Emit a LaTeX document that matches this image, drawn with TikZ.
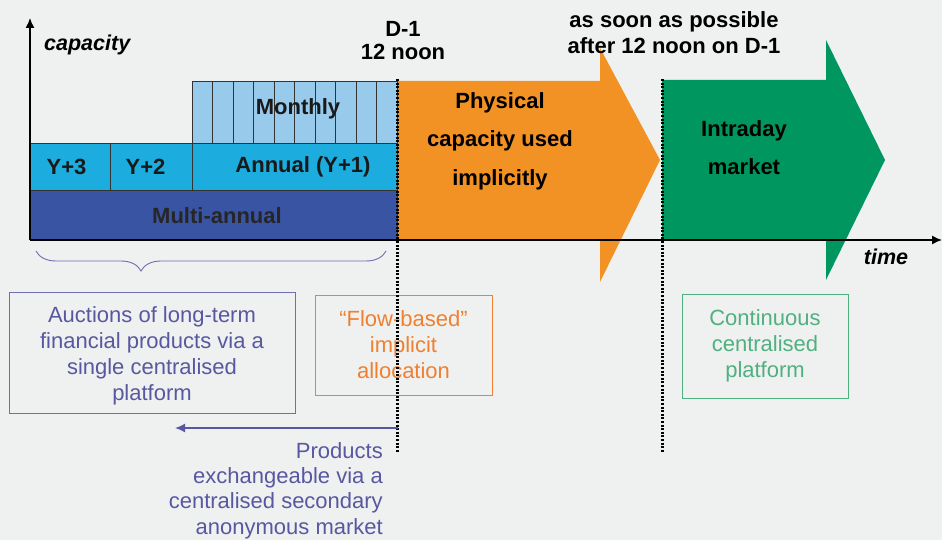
\documentclass[tikz,border=0pt]{standalone}
\usepackage{fontspec}
\setmainfont{Liberation Sans}
\usetikzlibrary{arrows.meta,decorations.pathreplacing,calc}
\definecolor{bg}{RGB}{239,240,240}
\definecolor{dblue}{RGB}{58,84,164}
\definecolor{cyanbar}{RGB}{28,172,222}
\definecolor{lblue}{RGB}{152,202,236}
\definecolor{orng}{RGB}{242,146,36}
\definecolor{grn}{RGB}{0,150,95}
\definecolor{purp}{RGB}{88,88,160}
\definecolor{purpline}{RGB}{110,110,176}
\definecolor{orngtxt}{RGB}{240,128,48}
\definecolor{grntxt}{RGB}{80,176,128}
\tikzset{
  lbl/.style={font=\fontsize{22}{24}\selectfont\bfseries, text=black, align=center, inner sep=0pt},
  axlbl/.style={font=\fontsize{21.5}{24}\selectfont\bfseries\itshape, inner sep=0pt},
  barbox/.style={draw=black!80, line width=1pt, anchor=north west, inner sep=0pt},
  bartext/.style={font=\fontsize{22}{24}\selectfont\bfseries, text=black!90, inner sep=0pt},
  infobox/.style={draw, line width=1pt, inner sep=0pt, align=center, font=\fontsize{22}{26}\selectfont},
  infotext/.style={inner sep=0pt, align=center, font=\fontsize{22}{26}\selectfont},
  dotline/.style={line width=3pt, dash pattern=on 2pt off 1.6pt},
}
\begin{document}
\begin{tikzpicture}[x=1pt,y=-1pt]
\fill[bg] (0,0) rectangle (942,540);
\useasboundingbox (0,0) rectangle (942,540);

% arrows (orange, green)
\fill[orng] (397,81) -- (600,81) -- (600,48) -- (660,160) -- (600,282) -- (600,240) -- (397,240) -- cycle;
\fill[grn] (662,80) -- (826,80) -- (826,40) -- (885,160) -- (826,280) -- (826,240) -- (662,240) -- cycle;
\node[lbl, font=\fontsize{22}{38.5}\selectfont\bfseries] (phys) at (500,141) {Physical\\capacity used\\implicitly};
\node[lbl, font=\fontsize{22}{38}\selectfont\bfseries] (intra) at (744,148) {Intraday\\market};

% bars
\node[barbox, fill=dblue, minimum width=367pt, minimum height=50pt] (multi) at (30,190) {};
\node[bartext, text=black!85] at ($(multi.center)+(3,0)$) {Multi-annual};
\node[barbox, fill=cyanbar, minimum width=80pt, minimum height=47pt] (y3) at (30,143) {};
\node[barbox, fill=cyanbar, minimum width=82pt, minimum height=47pt] (y2) at (110,143) {};
\node[barbox, fill=cyanbar, minimum width=205pt, minimum height=47pt] (ann) at (192,143) {};
\node[bartext] at ($(y3.center)+(-4,0)$) {Y+3};
\node[bartext] at ($(y2.center)+(-6,0)$) {Y+2};
\node[bartext] at ($(ann.center)+(8,0)$) {Annual (Y+1)};
\node[barbox, fill=lblue, minimum width=205pt, minimum height=62pt] (month) at (192,81) {};
\foreach \i in {1,...,9} {
  \draw[black!80, line width=1pt] ($(month.north west)+(20.5*\i,0)$) -- ($(month.south west)+(20.5*\i,0)$);
}
\node[bartext] at ($(month.center)+(3,-4)$) {Monthly};

% axes
\coordinate (o) at (30,240);
\coordinate (ytop) at (30,18);
\coordinate (xend) at (942,240);
\draw[line width=1.4pt, -{Latex[length=10pt,width=9pt]}] (o) -- (ytop);
\draw[line width=1.4pt, -{Latex[length=10pt,width=9pt]}] (o) -- (xend);
\node[axlbl, anchor=west] (cap) at (44,45) {capacity};
\node[axlbl] (time) at (886,257) {time};

% dotted lines
\coordinate (d1t) at (397,79);
\coordinate (d1b) at (397,453);
\coordinate (d2t) at (662,79);
\coordinate (d2b) at (662,453);

% top labels
\node[lbl, font=\fontsize{22}{23}\selectfont\bfseries] (d1) at (403,41) {D-1\\12 noon};
\node[lbl, font=\fontsize{22}{26}\selectfont\bfseries] (asap) at (674,33) {as soon as possible\\after 12 noon on D-1};

% brace
\draw[purpline, line width=0.9pt, decorate, decoration={brace, mirror, amplitude=20pt, aspect=0.3}] (36,251) -- (386,251);

% info boxes
\node[infobox, draw=purpline, minimum width=286pt, minimum height=121pt] (auct) at (152,352.5) {};
\node[infotext, text=purp] (aucttxt) at (152,356) {Auctions of long-term\\financial products via a\\single centralised\\platform};
\node[infobox, draw=orngtxt, text=orngtxt, minimum width=177pt, minimum height=100pt] (flow) at (403.5,345) {“Flow-based”\\implicit\\allocation};
\node[infobox, draw=grntxt, text=grntxt, minimum width=166pt, minimum height=104pt] (cont) at (765,346) {Continuous\\centralised\\platform};

\draw[dotline] (d1t) -- (d1b);
\draw[dotline] (d2t) -- (d2b);

% secondary market arrow
\coordinate (sa) at (398,428);
\coordinate (sb) at (175,428);
\draw[purp, line width=1.6pt, -{Latex[length=10pt,width=9pt]}] (sa) -- (sb);
\node[infotext, text=purp, align=right, anchor=north east, font=\fontsize{22}{25.3}\selectfont] (prod) at (383,442) {Products\\exchangeable via a\\centralised secondary\\anonymous market};
\end{tikzpicture}
\end{document}
